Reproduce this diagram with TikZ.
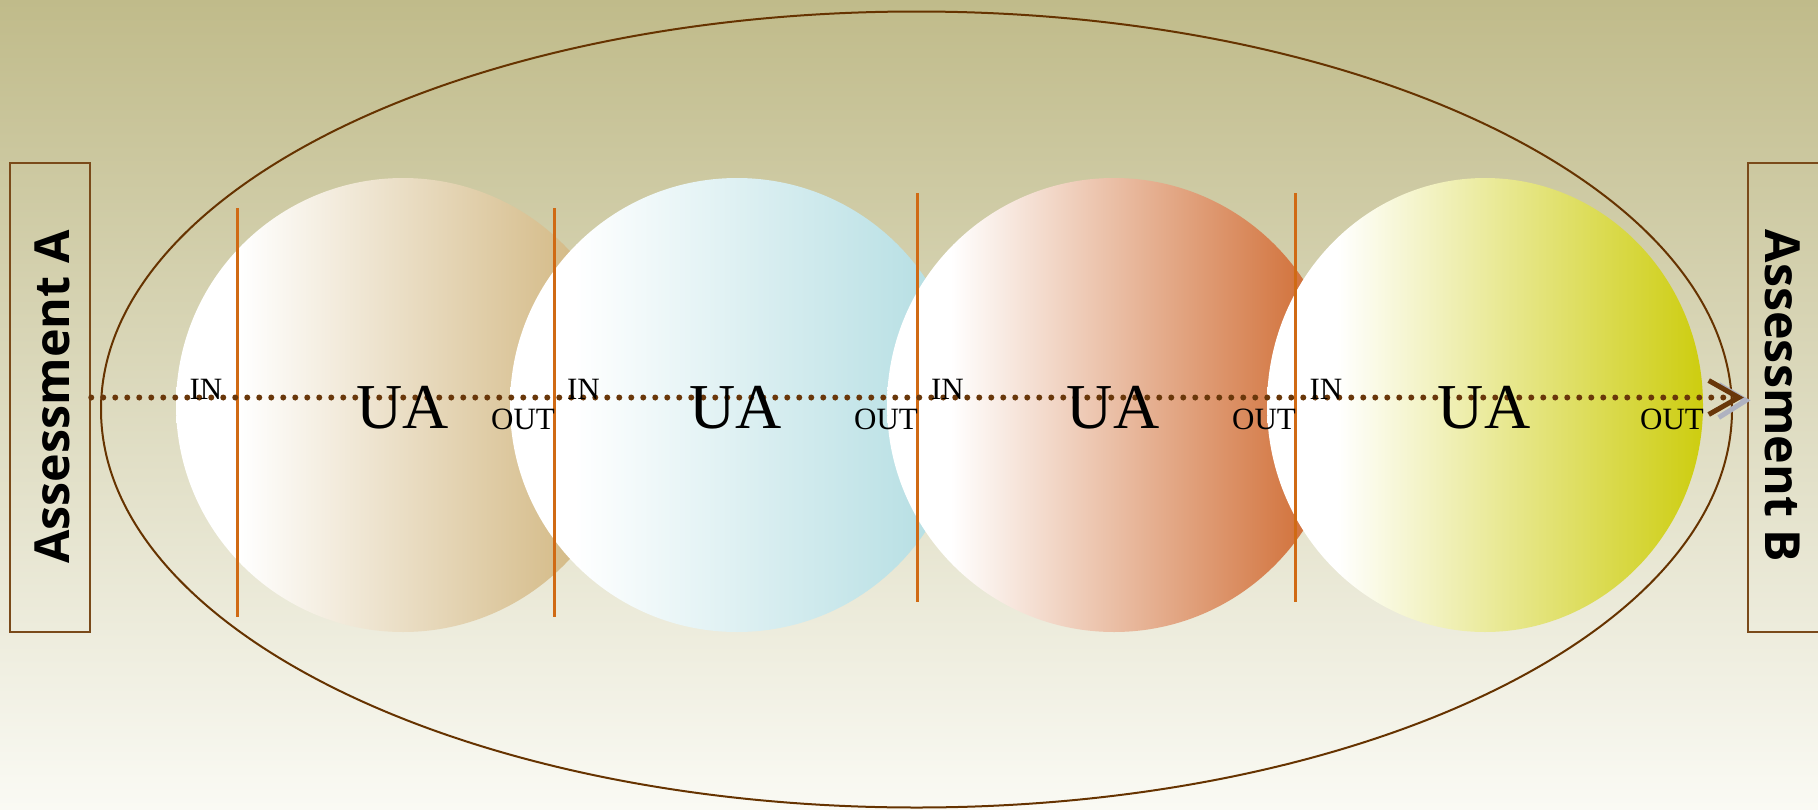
\documentclass[tikz,border=0pt]{standalone}
\usepackage{fontspec}
\setmainfont{Liberation Serif}
\newfontfamily\asfont{Open Sans}
\usetikzlibrary{arrows.meta,shapes.geometric}
\definecolor{bgtop}{RGB}{192,187,138}
\definecolor{bgbot}{RGB}{250,250,244}
\definecolor{ellcol}{RGB}{102,51,0}
\definecolor{boxcol}{RGB}{122,74,26}
\definecolor{dotcol}{RGB}{105,55,10}
\definecolor{orangeline}{RGB}{208,106,20}
\definecolor{shadowcol}{RGB}{175,178,192}
\definecolor{cA}{RGB}{205,175,115}
\definecolor{cB}{RGB}{176,220,225}
\definecolor{cC}{RGB}{205,100,40}
\definecolor{cD}{RGB}{205,205,15}
\pgfdeclarehorizontalshading{uaA}{100bp}{color(0bp)=(white); color(32bp)=(white); color(75bp)=(cA); color(100bp)=(cA)}
\pgfdeclarehorizontalshading{uaB}{100bp}{color(0bp)=(white); color(32bp)=(white); color(75bp)=(cB); color(100bp)=(cB)}
\pgfdeclarehorizontalshading{uaC}{100bp}{color(0bp)=(white); color(32bp)=(white); color(75bp)=(cC); color(100bp)=(cC)}
\pgfdeclarehorizontalshading{uaD}{100bp}{color(0bp)=(white); color(33bp)=(white); color(75bp)=(cD); color(100bp)=(cD)}
\tikzset{
  uanode/.style={ellipse, inner sep=0pt, minimum width=454pt, minimum height=454pt},
  assessbox/.style={draw=boxcol, line width=2.5pt, minimum width=80pt, minimum height=469pt, inner sep=0pt},
  assesstext/.style={font=\asfont\bfseries\fontsize{48.4}{50}\selectfont, inner sep=0pt},
  ualabel/.style={font=\fontsize{64}{64}\selectfont, inner sep=0pt},
  iolabel/.style={font=\fontsize{31}{31}\selectfont, inner sep=0pt},
  divider/.style={draw=orangeline, line width=3pt},
  dotline/.style={draw=dotcol, line width=6pt, line cap=round, dash pattern=on 0pt off 12pt,
     -{Straight Barb[length=30pt, width=34pt, line width=5pt]}, shorten >=3pt},
}
\begin{document}
\begin{tikzpicture}[x=1pt,y=-1pt]
\useasboundingbox (0,0) rectangle (1818,809);
\shade[top color=bgtop, bottom color=bgbot] (0,0) rectangle (1818,809);
\draw[ellcol, line width=2pt] (916.5,409.5) ellipse [x radius=815.5pt, y radius=398pt];
% circles
\node[uanode, shading=uaA] (u1) at (403,405) {};
\node[uanode, shading=uaB] (u2) at (737,405) {};
\node[uanode, shading=uaC] (u3) at (1114,405) {};
\node[uanode, shading=uaD, minimum width=436pt] (u4) at (1485,405) {};
% dividers
\draw[divider] (237,208) -- (237,617);
\draw[divider] (554,208) -- (554,617);
\draw[divider] (917.5,193) -- (917.5,602);
\draw[divider] (1295.5,193) -- (1295.5,602);
% boxes
\node[assessbox] (A) at (50,397.5) {};
\node[assessbox] (B) at (1788,397.5) {};
\node[assesstext, rotate=90] (At) at (52.5,397) {Assessment A};
\node[assesstext, rotate=-90] (Bt) at (1783,396) {Assessment B};
% arrow shadow
\draw[shadowcol, line width=5pt] ([shift={(-28,-13)}]B.west) -- ([shift={(-1,3)}]B.west) -- ([shift={(-28,20)}]B.west);
% dotted connector
\draw[dotline] (A.east) -- (B.west);
% labels
\node[iolabel] (in1) at (206,389.5) {IN};
\node[iolabel] (in2) at (583.5,389.5) {IN};
\node[iolabel] (in3) at (947.5,389.5) {IN};
\node[iolabel] (in4) at (1326,389.5) {IN};
\node[iolabel] (out1) at (523,419.5) {OUT};
\node[iolabel] (out2) at (886,419.5) {OUT};
\node[iolabel] (out3) at (1264,419.5) {OUT};
\node[iolabel] (out4) at (1672,419.5) {OUT};
\node[ualabel] (ua1) at (403,407.5) {UA};
\node[ualabel] (ua2) at (736,407.5) {UA};
\node[ualabel] (ua3) at (1113,407.5) {UA};
\node[ualabel] (ua4) at (1484,407.5) {UA};
\end{tikzpicture}
\end{document}
